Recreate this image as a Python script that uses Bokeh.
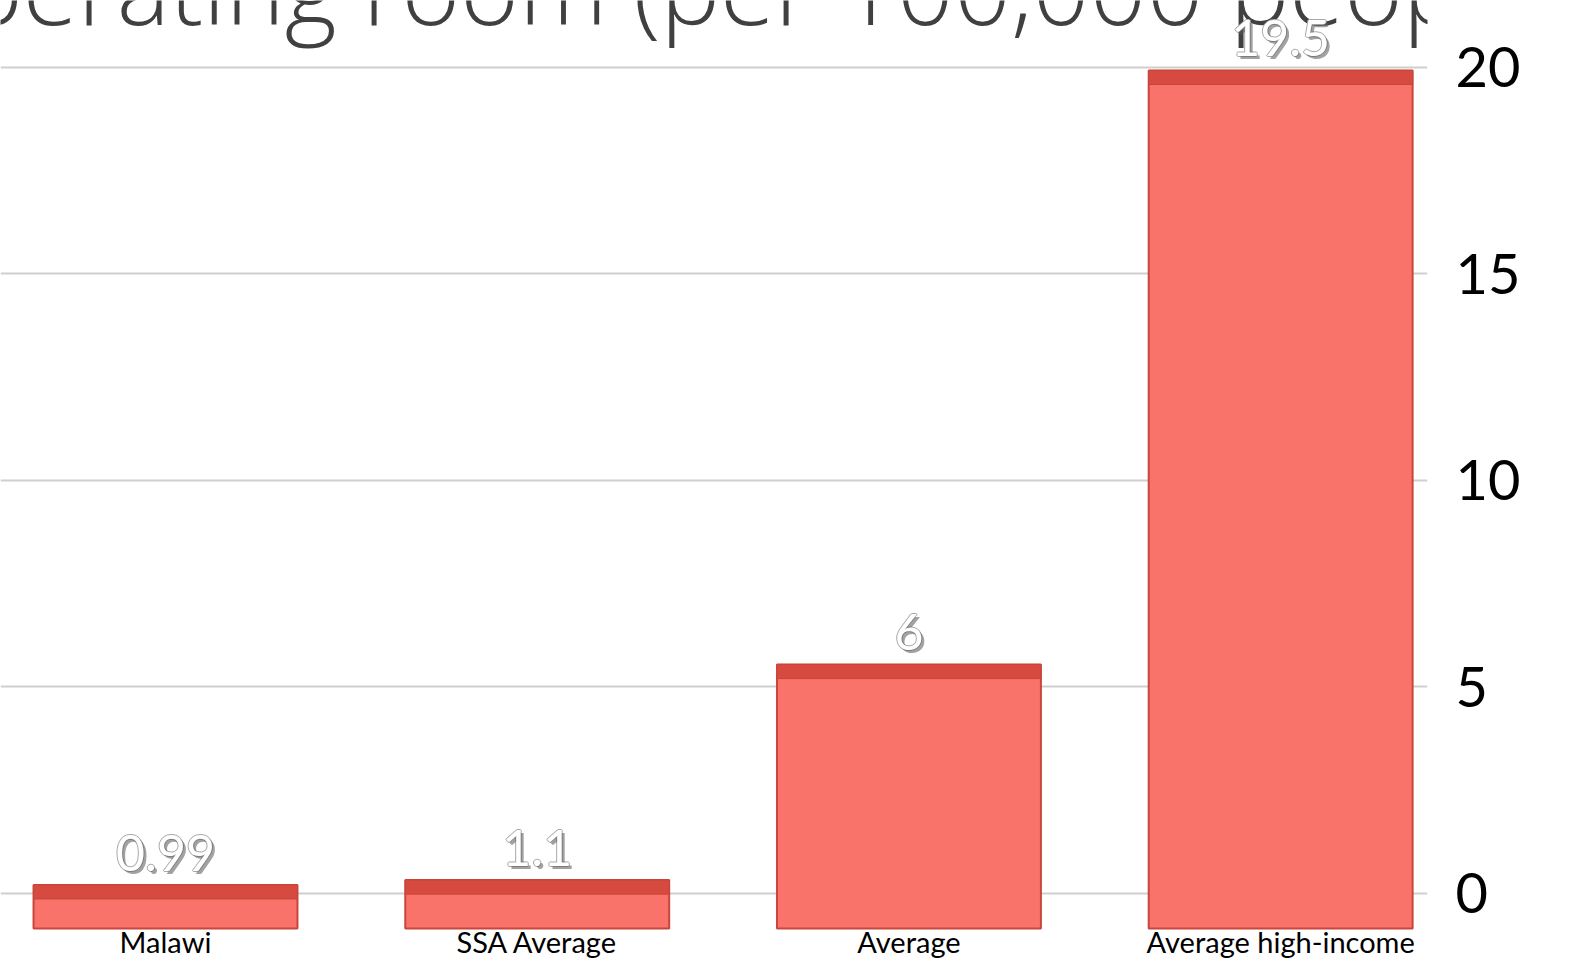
from bokeh.plotting import figure
from bokeh.models import (Range1d, LinearAxis, FixedTicker, Grid, ColumnDataSource, Label)
from bokeh.core.properties import value
from bokeh.embed import file_html
from bokeh.resources import INLINE

# ---- data ----
categories = ["Malawi", "SSA Average", "Average", "Average high-income"]
values = [0.99, 1.1, 6, 19.5]
value_labels = ["0.99", "1.1", "6", "19.5"]
y_ticks = [0, 5, 10, 15, 20]
title_text = "Operating room (per 100,000 people)"

xs = list(range(len(categories)))

p = figure(width=1562, height=959, output_backend="svg", toolbar_location=None,
           x_range=Range1d(-0.4439, 3.395), y_range=Range1d(-0.705, 21.09),
           x_axis_location=None, y_axis_location=None,
           min_border_left=0, min_border_top=0,
           min_border_bottom=0, min_border_right=135)
p.outline_line_color = None
p.background_fill_color = "white"
p.border_fill_color = "white"
for g in p.grid:
    g.visible = False

# value axis drawn with its own (perspective) scale
p.extra_y_ranges = {"axis": Range1d(-1.598, 21.62)}
yax = LinearAxis(y_range_name="axis", ticker=FixedTicker(ticks=y_ticks))
yax.axis_line_color = None
yax.major_tick_line_color = None
yax.minor_tick_line_color = None
yax.major_label_standoff = 22
yax.major_label_text_font = "Lato"
yax.major_label_text_font_size = "56px"
yax.major_label_text_color = "#000000"
p.add_layout(yax, "right")

grid = Grid(dimension=1, ticker=FixedTicker(ticks=y_ticks), y_range_name="axis")
grid.grid_line_color = "#cfcfcf"
grid.grid_line_width = 2
p.add_layout(grid, "center")

src = ColumnDataSource(dict(x=xs, top=values, lab=value_labels, cat=categories,
                            strip=[v - 0.32 for v in values]))

# clipped title at the top (drawn beneath the bars and value labels)
p.add_layout(Label(x=-0.7495, y=21.41, text=title_text, text_font="Open Sans",
                   text_font_size="100px", text_color="#404040",
                   text_baseline="alphabetic", text_align="left",
                   level="underlay"))

# bars (front face)
p.vbar(x="x", top="top", bottom=0, width=0.71, source=src,
       fill_color="#f9736a", line_color="#c9463c", line_width=2)
# darker top face
p.vbar(x="x", top="top", bottom="strip", width=0.71, source=src,
       fill_color="#d64a3f", line_color="#c9463c", line_width=1)

# value labels: soft outline/shadow then white fill
common = dict(x="x", y="top", text="lab", source=src, text_align="center",
              text_baseline="bottom", text_font=value("Lato"),
              text_font_size="50px")
for dx, dy in [(-1, -14), (1, -14), (0, -15), (0, -13)]:
    p.text(x_offset=dx, y_offset=dy, text_color="#a8a8a8", **common)
p.text(x_offset=3, y_offset=-11, text_color="#555555", text_alpha=0.55, **common)
p.text(x_offset=0, y_offset=-14, text_color="#ffffff", **common)

# category labels below the bars
p.text(x="x", y=-0.70, text="cat", source=src, text_align="center",
       text_baseline="bottom", text_font=value("Lato"),
       text_font_size="29px", text_color="#000000")

open("out.html", "w").write(file_html(p, INLINE))
